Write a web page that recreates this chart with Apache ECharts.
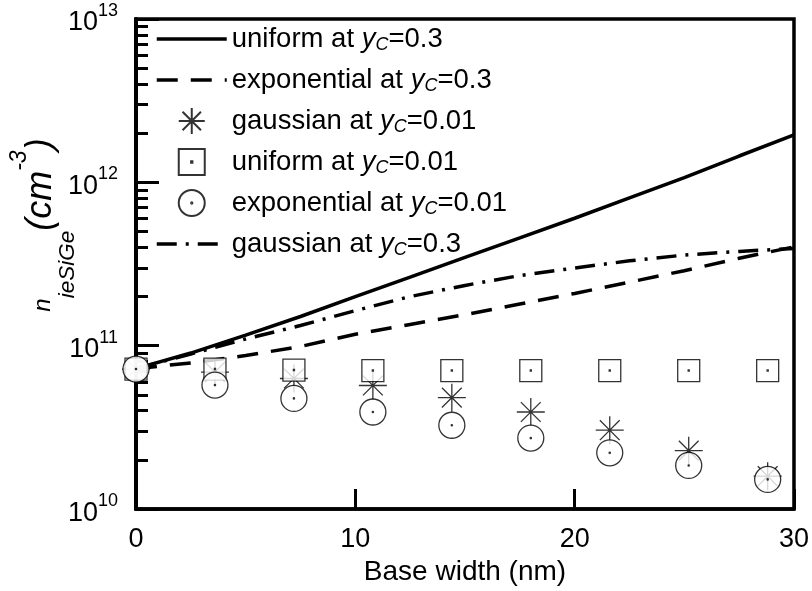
<!DOCTYPE html>
<html>
<head>
<meta charset="utf-8">
<script src="https://cdn.jsdelivr.net/npm/echarts@6/dist/echarts.min.js"></script>
<style>
html,body{margin:0;padding:0;background:#fff;}
#chart{width:812px;height:591px;}
</style>
</head>
<body>
<div id="chart"></div>
<script>
// ---- data ----
const lineX = [0, 2.5, 5, 7.5, 10, 12.5, 15, 17.5, 20, 22.5, 25, 27.5, 30];
const uniform03 = [7.24e10, 9.02e10, 1.16e11, 1.51e11, 2.0e11, 2.63e11, 3.47e11, 4.57e11, 6.03e11, 8.04e11, 1.07e12, 1.45e12, 1.95e12];
const exponential03 = [7.24e10, 7.85e10, 8.71e10, 9.89e10, 1.175e11, 1.35e11, 1.55e11, 1.80e11, 2.09e11, 2.45e11, 2.88e11, 3.43e11, 4.03e11];
const gaussian03 = [7.24e10, 8.9e10, 1.10e11, 1.33e11, 1.64e11, 2.0e11, 2.34e11, 2.69e11, 2.99e11, 3.31e11, 3.59e11, 3.78e11, 3.94e11];

const markX = [0, 3.6, 7.2, 10.8, 14.4, 18, 21.6, 25.2, 28.8];
const gaussian001 = [7.2e10, 6.9e10, 6.3e10, 5.71e10, 4.81e10, 3.93e10, 3.04e10, 2.28e10, 1.59e10];
const uniform001 = [7.2e10, 7.2e10, 7.1e10, 7.05e10, 7.05e10, 7.05e10, 7.05e10, 7.05e10, 7.05e10];
const exponential001 = [7.2e10, 5.74e10, 4.76e10, 3.93e10, 3.26e10, 2.72e10, 2.21e10, 1.85e10, 1.52e10];

const xTicks = [0, 10, 20, 30];
const yMinorTicks = [2e10,3e10,4e10,5e10,6e10,7e10,8e10,9e10,2e11,3e11,4e11,5e11,6e11,7e11,8e11,9e11,2e12,3e12,4e12,5e12,6e12,7e12,8e12,9e12];

const seriesNames = ['uniform at yC=0.3', 'exponential at yC=0.3', 'gaussian at yC=0.01', 'uniform at yC=0.01', 'exponential at yC=0.01', 'gaussian at yC=0.3'];
const legendProfile = ['uniform', 'exponential', 'gaussian', 'uniform', 'exponential', 'gaussian'];
const legendYc = ['0.3', '0.3', '0.01', '0.01', '0.01', '0.3'];
const isLineSeries = [true, true, false, false, false, true];

// ---- helpers ----
const FONT = "Arial, 'Liberation Sans', Helvetica, sans-serif";
function pairs(xs, ys) { return xs.map((x, i) => [x, ys[i]]); }

const STAR = 'path://M-10 0L10 0M0 -10L0 10M-7.07 -7.07L7.07 7.07M-7.07 7.07L7.07 -7.07';
const SQUARE = 'path://M-10 -10L10 -10L10 10L-10 10ZM-0.5 -0.5L0.5 -0.5L0.5 0.5L-0.5 0.5Z';
const CIRCLE = 'path://M0 -10A10 10 0 1 1 0 10A10 10 0 1 1 0 -10ZM0 -0.5A0.5 0.5 0 1 1 0 0.5A0.5 0.5 0 1 1 0 -0.5Z';

const markerStyle = { color: '#fff', borderColor: '#000', borderWidth: 1.3 };

const chart = echarts.init(document.getElementById('chart'), null, { renderer: 'canvas' });

const legendRich = {
  n: { fontSize: 27.5, fontFamily: FONT, color: '#000', lineHeight: 28 },
  y: { fontSize: 27.5, fontFamily: FONT, fontStyle: 'italic', color: '#000', lineHeight: 28 },
  c: { fontSize: 18, fontFamily: FONT, fontStyle: 'italic', color: '#000', lineHeight: 16, padding: [12, 0, 0, 0] }
};

const legendData = seriesNames.map((n, i) => isLineSeries[i]
  ? { name: n, itemStyle: { opacity: 0 }, lineStyle: { width: 3.5 } }
  : { name: n });

const option = {
  animation: false,
  backgroundColor: '#fff',
  grid: { left: 136, right: 18, top: 19, bottom: 79, show: true, borderColor: '#000', borderWidth: 3.5 },
  legend: {
    orient: 'vertical',
    left: 150,
    top: 19,
    padding: 5,
    itemWidth: 70,
    itemHeight: 26,
    itemGap: 11,
    data: legendData,
    lineStyle: { width: 3.5 },
    formatter: function (name) {
      const i = seriesNames.indexOf(name);
      return '{n|' + legendProfile[i] + ' at }{y|y}{c|C}{n|=' + legendYc[i] + '}';
    },
    textStyle: { fontSize: 27.5, fontFamily: FONT, color: '#000', rich: legendRich }
  },
  xAxis: {
    type: 'value',
    min: 0, max: 30, interval: 10,
    name: 'Base width (nm)',
    nameLocation: 'middle',
    nameGap: 47,
    nameTextStyle: { fontSize: 28, fontFamily: FONT, color: '#000' },
    axisLine: { show: true, lineStyle: { color: '#000', width: 3.5 } },
    axisTick: { inside: true, length: 20, lineStyle: { color: '#000', width: 3 }, customValues: xTicks },
    axisLabel: { fontSize: 27, fontFamily: FONT, color: '#000', margin: 17, customValues: xTicks },
    splitLine: { show: false }
  },
  yAxis: [{
    type: 'log',
    logBase: 10,
    min: 1e10, max: 1e13,
    splitNumber: 3,
    axisLine: { show: true, lineStyle: { color: '#000', width: 4 } },
    axisTick: { inside: true, length: 23, lineStyle: { color: '#000', width: 3 } },
    axisLabel: {
      margin: 18,
      formatter: function (v) { return '{b|10}{e|' + Math.round(Math.log10(v)) + '}'; },
      rich: {
        b: { fontSize: 27, fontFamily: FONT, color: '#000', padding: [8, 0, 0, 0] },
        e: { fontSize: 18, fontFamily: FONT, color: '#000', padding: [0, 0, 16, 0] }
      }
    },
    splitLine: { show: false }
  }, {
    type: 'log',
    logBase: 10,
    min: 1e10, max: 1e13,
    position: 'left',
    axisLine: { show: false },
    axisLabel: { show: false },
    splitLine: { show: false },
    axisTick: { show: true, inside: true, length: 12, lineStyle: { color: '#000', width: 3 }, customValues: yMinorTicks }
  }],
  series: [
    {
      name: seriesNames[0], type: 'line', symbol: 'none', data: pairs(lineX, uniform03),
      lineStyle: { color: '#000', width: 3.5, type: 'solid' }, itemStyle: { color: '#000' }, z: 3
    },
    {
      name: seriesNames[1], type: 'line', symbol: 'none', data: pairs(lineX, exponential03),
      lineStyle: { color: '#000', width: 3.5, type: [21, 13] }, itemStyle: { color: '#000' }, z: 3
    },
    {
      name: seriesNames[2], type: 'scatter', symbol: STAR, symbolSize: 28, symbolKeepAspect: true,
      data: pairs(markX, gaussian001), itemStyle: markerStyle, z: 4
    },
    {
      name: seriesNames[3], type: 'scatter', symbol: SQUARE, symbolSize: 22, symbolKeepAspect: true,
      data: pairs(markX, uniform001), itemStyle: markerStyle, z: 5
    },
    {
      name: seriesNames[4], type: 'scatter', symbol: CIRCLE, symbolSize: 26, symbolKeepAspect: true,
      data: pairs(markX, exponential001), itemStyle: markerStyle, z: 6
    },
    {
      name: seriesNames[5], type: 'line', symbol: 'none', data: pairs(lineX, gaussian03),
      lineStyle: { color: '#000', width: 3.5, type: [20, 9, 3, 9] }, itemStyle: { color: '#000' }, z: 3
    }
  ],
  graphic: [{
    type: 'text',
    x: 41,
    y: 225,
    rotation: Math.PI / 2,
    style: {
      text: '{n|n}{s|ieSiGe}{p|(cm}{e|-3}{p|)}',
      align: 'center',
      verticalAlign: 'middle',
      fill: '#000',
      rich: {
        n: { fontSize: 24, fontFamily: FONT, fontStyle: 'italic', fill: '#000', padding: [4, 0, 0, 0] },
        s: { fontSize: 22.5, fontFamily: FONT, fontStyle: 'italic', fill: '#000', padding: [54, 0, 0, 0] },
        p: { fontSize: 36, fontFamily: FONT, fontStyle: 'italic', fill: '#000' },
        e: { fontSize: 23, fontFamily: FONT, fontStyle: 'italic', fill: '#000', padding: [0, 0, 42, 0] }
      }
    }
  }]
};

chart.setOption(option);
</script>
</body>
</html>
